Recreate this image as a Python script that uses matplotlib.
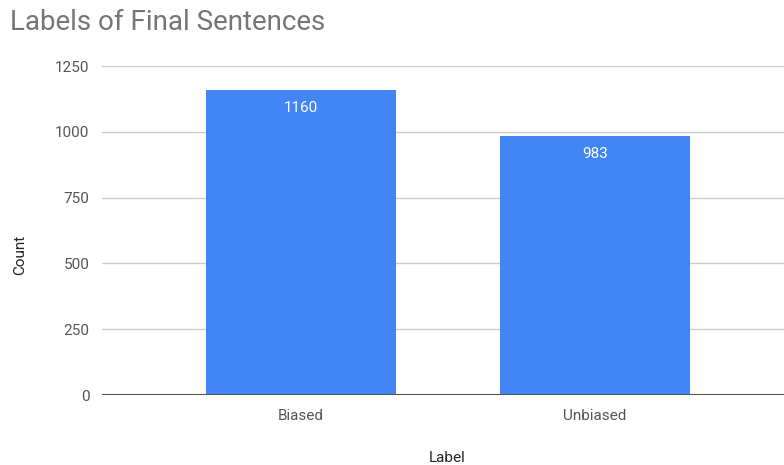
import matplotlib.pyplot as plt

labels = ['Biased', 'Unbiased']
counts = [1160, 983]
yticks = [0, 250, 500, 750, 1000, 1250]

plt.rcParams['font.family'] = ['Roboto', 'DejaVu Sans']

fig = plt.figure(figsize=(7.84, 4.65), dpi=100)
ax = fig.add_axes([0.130, 0.1505, 0.870, 0.7075])

x = list(range(len(labels)))
bars = ax.bar(x, counts, width=0.646, color='#4285f4', zorder=3)

for b, v in zip(bars, counts):
    ax.annotate(str(v), (b.get_x() + b.get_width() / 2, v), xytext=(0, -13),
                textcoords='offset points', ha='center', va='center',
                color='white', fontsize=11, zorder=4)

ax.set_xlim(-0.677, 1.643)
ax.set_ylim(0, 1250)
ax.set_yticks(yticks)
ax.set_xticks(x)
ax.set_xticklabels(labels)
ax.grid(axis='y', color='#cccccc', linewidth=1, zorder=0)
ax.axhline(0, color='#555555', linewidth=1.5, zorder=5)
for s in ax.spines.values():
    s.set_visible(False)
ax.tick_params(length=0, labelsize=11, labelcolor='#555555')
ax.tick_params(axis='y', pad=9)
ax.tick_params(axis='x', pad=10)

# axis titles placed by hand like the sheets export
fig.text(20 / 784, 1 - 255 / 465, 'Count', fontsize=11, color='#222222',
         rotation=90, ha='center', va='center')
fig.text(447 / 784, 1 - 458 / 465, 'Label', fontsize=11, color='#222222',
         ha='center', va='center')
fig.text(10 / 784, 1 - 22 / 465, 'Labels of Final Sentences', fontsize=20,
         color='#757575', ha='left', va='center')

fig.savefig('out.png', dpi=100)
